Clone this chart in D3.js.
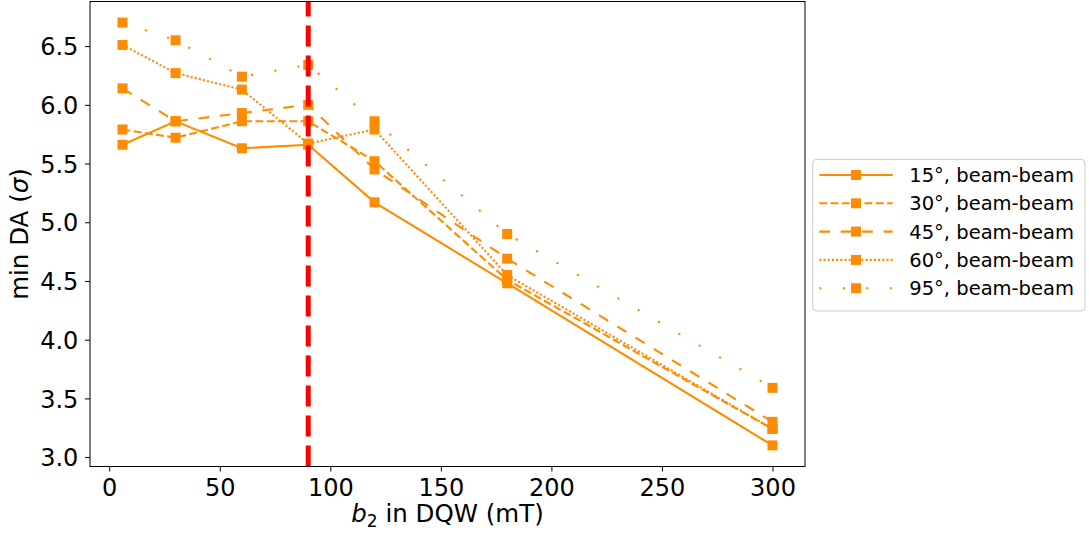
<!DOCTYPE html>
<html>
<head>
<meta charset="utf-8">
<script src="https://d3js.org/d3.v7.min.js"></script>
<style>
  body { margin: 0; background: #fff; }
  svg, svg text { font-family: 'DejaVu Sans', sans-serif; }
  .tick text { fill: #000; }
  .tick line { stroke: #000; stroke-width: 1; }
</style>
</head>
<body>
<div id="chart"></div>
<script>
// b2 values scanned (mT) and min DA per crossing angle
const b2 = [6, 30, 60, 90, 120, 180, 300];
const da15 = [5.66, 5.86, 5.63, 5.66, 5.17, 4.48, 3.10];
const da30 = [5.79, 5.72, 5.86, 5.86, 5.52, 4.51, 3.24];
const da45 = [6.14, 5.86, 5.93, 6.00, 5.45, 4.69, 3.30];
const da60 = [6.51, 6.27, 6.13, 5.67, 5.79, 4.55, 3.24];
const da95 = [6.70, 6.55, 6.24, 6.34, 5.86, 4.90, 3.59];
const seriesNames = ["15°, beam-beam", "30°, beam-beam", "45°, beam-beam", "60°, beam-beam", "95°, beam-beam"];
const xTicks = [0, 50, 100, 150, 200, 250, 300];
const yTicks = [3.0, 3.5, 4.0, 4.5, 5.0, 5.5, 6.0, 6.5];
const b2Limit = 90;

// line styles (solid, --, (5,5), (1,1), (1,10))
const dashes = [null, "7.9,3.4", "10.7,10.7", "2.1,2.1", "2.1,21.4"];
const orange = "#ff8c00";
const font = "'DejaVu Sans', sans-serif";

const W = 1089, H = 533;
const margin = {top: 1.5, right: 284, bottom: 66.5, left: 90};
const width = W - margin.left - margin.right,
      height = H - margin.top - margin.bottom;

const svg = d3.select("#chart").append("svg")
    .attr("width", W)
    .attr("height", H)
    .attr("font-family", font);

const g = svg.append("g")
    .attr("transform", `translate(${margin.left},${margin.top})`);

const x = d3.scaleLinear().domain([-8.7, 314.7]).range([0, width]);
const y = d3.scaleLinear().domain([2.92, 6.88]).range([height, 0]);

// axes
const xAxis = g.append("g")
    .attr("transform", `translate(0,${height})`)
    .call(d3.axisBottom(x).tickValues(xTicks).tickSize(5).tickPadding(7.5).tickFormat(d3.format("d")))
    .attr("font-family", font)
    .attr("font-size", 24);
xAxis.select(".domain").remove();

const yAxis = g.append("g")
    .call(d3.axisLeft(y).tickValues(yTicks).tickSize(5).tickPadding(6.7).tickFormat(d3.format(".1f")))
    .attr("font-family", font)
    .attr("font-size", 24);
yAxis.select(".domain").remove();
yAxis.selectAll("text").attr("dy", "0.36em");

// data
const series = [da15, da30, da45, da60, da95].map((vals, i) => ({
  name: seriesNames[i],
  dash: dashes[i],
  points: b2.map((b, j) => ({b: b, v: vals[j]}))
}));

const line = d3.line().x(d => x(d.b)).y(d => y(d.v));

series.forEach(s => {
  g.append("path")
    .datum(s.points)
    .attr("d", line)
    .attr("fill", "none")
    .attr("stroke", orange)
    .attr("stroke-width", 2.1)
    .attr("stroke-dasharray", s.dash);
  g.append("g").selectAll("rect")
    .data(s.points)
    .join("rect")
      .attr("x", d => x(d.b) - 5)
      .attr("y", d => y(d.v) - 5)
      .attr("width", 10)
      .attr("height", 10)
      .attr("fill", orange);
});

// vertical reference line
g.append("line")
  .attr("x1", x(b2Limit)).attr("x2", x(b2Limit))
  .attr("y1", height).attr("y2", 0)
  .attr("stroke", "#ff0000")
  .attr("stroke-width", 5)
  .attr("stroke-dasharray", "21,9");

// frame
g.append("rect")
  .attr("width", width).attr("height", height)
  .attr("fill", "none")
  .attr("stroke", "#000")
  .attr("stroke-width", 1);

// axis labels
const xl = g.append("text")
  .attr("x", width / 2)
  .attr("y", height + 55.5)
  .attr("text-anchor", "middle")
  .style("font-size", "24.5px");
xl.append("tspan").attr("font-style", "italic").text("b");
xl.append("tspan").attr("dy", 5).style("font-size", "17px").text("2");
xl.append("tspan").attr("dy", -5).text(" in DQW (mT)");

const yl = g.append("text")
  .attr("transform", `translate(${28 - margin.left},${height / 2}) rotate(-90)`)
  .attr("text-anchor", "middle")
  .style("font-size", "24.5px");
yl.append("tspan").text("min DA (");
yl.append("tspan").attr("font-style", "italic").text("σ");
yl.append("tspan").text(")");

// legend
const leg = svg.append("g").attr("transform", "translate(812.7,159.3)");
leg.append("rect")
  .attr("width", 272.3).attr("height", 151.7)
  .attr("rx", 4)
  .attr("fill", "#fff").attr("fill-opacity", 0.8)
  .attr("stroke", "#cccccc").attr("stroke-width", 1);

const rows = leg.selectAll("g.row")
  .data(series)
  .join("g")
    .attr("class", "row")
    .attr("transform", (d, i) => `translate(0,${15.7 + i * 28.3})`);
rows.append("line")
  .attr("x1", 6.6).attr("x2", 80)
  .attr("stroke", orange)
  .attr("stroke-width", 2.1)
  .attr("stroke-dasharray", d => d.dash);
rows.append("rect")
  .attr("x", 43.3 - 5).attr("y", -5)
  .attr("width", 10).attr("height", 10)
  .attr("fill", orange);
rows.append("text")
  .attr("x", 96.6)
  .attr("y", 7.1)
  .style("font-size", "19.5px")
  .attr("fill", "#000")
  .text(d => d.name);
</script>
</body>
</html>
